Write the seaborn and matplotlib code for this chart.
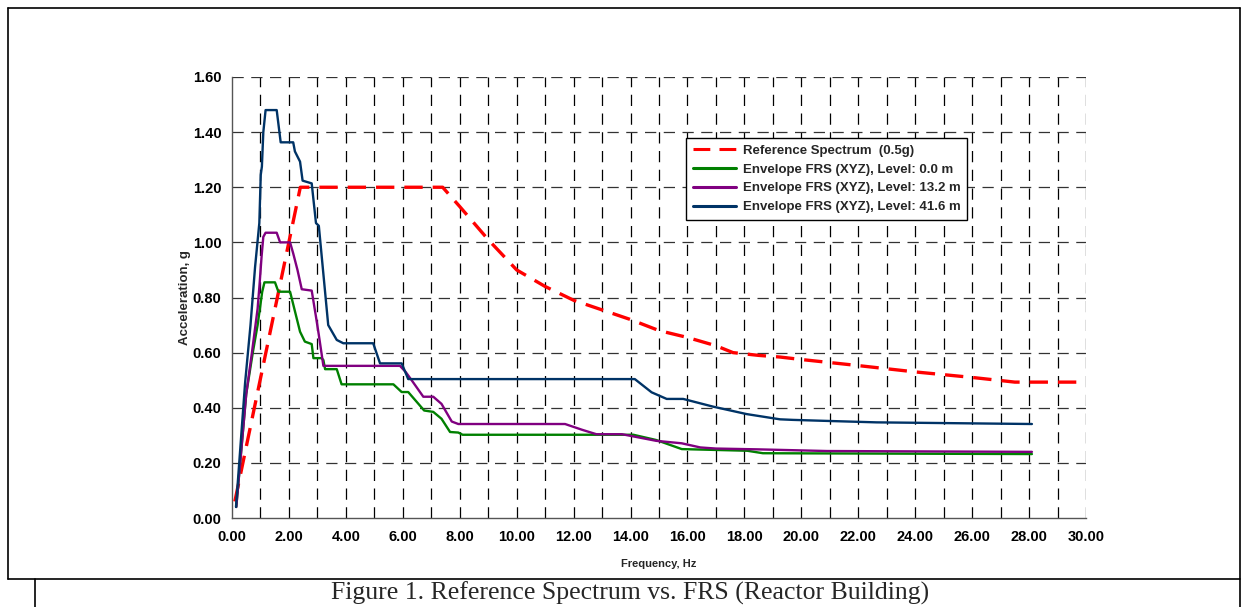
import numpy as np
import pandas as pd
import matplotlib
matplotlib.use("Agg")
import matplotlib.pyplot as plt
from matplotlib.lines import Line2D
from matplotlib.ticker import MultipleLocator, FormatStrFormatter
import seaborn as sns

# Reference spectrum (0.5g)
ref_freq = [0.1, 2.4, 7.4, 8.0, 9.0, 10.0, 11.0, 12.0, 13.0, 14.0, 15.0, 16.0,
            17.0, 17.6, 18.5, 19.25, 20.0, 22.0, 24.0, 26.0, 27.5, 30.0]
ref_acc = [0.06, 1.20, 1.20, 1.13, 1.01, 0.90, 0.84, 0.79, 0.755, 0.72, 0.68, 0.655,
           0.625, 0.60, 0.59, 0.584, 0.575, 0.553, 0.53, 0.51, 0.493, 0.493]

# Envelope FRS, level 0.0 m
green_freq = [0.15, 0.5, 0.73, 0.9, 1.06, 1.14, 1.51, 1.63, 2.04, 2.39, 2.56, 2.8, 2.86,
              3.15, 3.21, 3.27, 3.68, 3.85, 5.67, 5.96, 6.19, 6.5, 6.75, 7.07, 7.36, 7.66,
              7.95, 8.1, 14.1, 14.9, 15.8, 18.1, 18.65, 28.1]
green_acc = [0.04, 0.45, 0.60, 0.70, 0.82, 0.855, 0.855, 0.821, 0.821, 0.676, 0.64, 0.631, 0.58,
             0.58, 0.573, 0.54, 0.54, 0.485, 0.485, 0.457, 0.457, 0.42, 0.39, 0.385, 0.36, 0.312,
             0.31, 0.302, 0.302, 0.283, 0.25, 0.244, 0.235, 0.232]

# Envelope FRS, level 13.2 m
purple_freq = [0.15, 0.5, 0.7, 0.9, 0.97, 1.04, 1.1, 1.18, 1.57, 1.69, 2.04, 2.15, 2.3, 2.45,
               2.8, 2.95, 3.05, 3.21, 5.9, 6.1, 6.31, 6.72, 7.07, 7.36, 7.72, 7.95, 11.7, 12.3,
               12.8, 13.7, 14.9, 15.8, 16.45, 17.0, 18.5, 20.9, 28.1]
purple_acc = [0.04, 0.45, 0.60, 0.76, 0.85, 0.95, 1.02, 1.035, 1.035, 1.0, 1.0, 0.96, 0.90, 0.83,
              0.825, 0.73, 0.664, 0.552, 0.552, 0.53, 0.50, 0.44, 0.44, 0.414, 0.35, 0.341, 0.341, 0.32,
              0.304, 0.304, 0.28, 0.271, 0.256, 0.252, 0.249, 0.243, 0.24]

# Envelope FRS, level 41.6 m
blue_freq = [0.14, 0.46, 0.65, 0.81, 0.96, 1.01, 1.05, 1.1, 1.18, 1.57, 1.71, 2.15, 2.21, 2.39,
             2.48, 2.8, 2.95, 3.05, 3.38, 3.68, 3.91, 4.96, 5.2, 5.96, 6.19, 14.15, 14.74, 15.27,
             15.85, 16.9, 18.08, 19.25, 19.7, 20.65, 22.64, 28.1]
blue_acc = [0.04, 0.49, 0.70, 0.91, 1.07, 1.245, 1.275, 1.40, 1.48, 1.48, 1.363, 1.363, 1.33, 1.293,
            1.224, 1.214, 1.07, 1.06, 0.70, 0.646, 0.634, 0.634, 0.561, 0.561, 0.504, 0.504, 0.456, 0.432,
            0.432, 0.404, 0.377, 0.358, 0.356, 0.353, 0.347, 0.341]

labels = ["Reference Spectrum  (0.5g)",
          "Envelope FRS (XYZ), Level: 0.0 m",
          "Envelope FRS (XYZ), Level: 13.2 m",
          "Envelope FRS (XYZ), Level: 41.6 m"]
colors = ["#FF0000", "#008000", "#800080", "#003366"]

frames = []
for lab, fx, fy in zip(labels, [ref_freq, green_freq, purple_freq, blue_freq],
                       [ref_acc, green_acc, purple_acc, blue_acc]):
    frames.append(pd.DataFrame({"freq": fx, "acc": fy, "series": lab}))
df = pd.concat(frames, ignore_index=True)

sns.set_style("white")
plt.rcParams["font.family"] = ["Liberation Sans", "DejaVu Sans"]

fig = plt.figure(figsize=(12.47, 6.07), dpi=100)
ax = fig.add_axes([232 / 1247, 89 / 607, 854 / 1247, 441 / 607])

# dashed grid, every 1 Hz and every 0.2 g
for xv in np.arange(1, 31, 1):
    ax.axvline(xv, color="black", lw=0.9, ls=(0, (9, 6)), zorder=1)
for yv in np.arange(0.2, 1.61, 0.2):
    ax.axhline(yv, color="#333333", lw=0.9, ls=(0, (9, 6)), zorder=1)

sns.lineplot(data=df, x="freq", y="acc", hue="series", style="series",
             hue_order=labels, style_order=labels, palette=colors,
             dashes={labels[0]: (5.5, 3.0), labels[1]: "", labels[2]: "", labels[3]: ""},
             estimator=None, sort=False, ax=ax, zorder=3)

# line widths: reference thicker
for ln in ax.lines:
    if ln.get_zorder() != 3:
        continue
    c = ln.get_color()
    if isinstance(c, str) and c.lower() == "#ff0000":
        ln.set_linewidth(2.4)
    else:
        ln.set_linewidth(1.7)

ax.set_xlim(0, 30)
ax.set_ylim(0, 1.6)
ax.xaxis.set_major_locator(MultipleLocator(2))
ax.xaxis.set_minor_locator(MultipleLocator(1))
ax.yaxis.set_major_locator(MultipleLocator(0.2))
ax.xaxis.set_major_formatter(FormatStrFormatter("%.2f"))
ax.yaxis.set_major_formatter(FormatStrFormatter("%.2f"))

for s in ["top", "right"]:
    ax.spines[s].set_visible(False)
for s in ["left", "bottom"]:
    ax.spines[s].set_color("#555555")
    ax.spines[s].set_linewidth(1.0)

ax.tick_params(axis="x", which="major", direction="inout", length=9, width=0.9,
               colors="#333333", labelcolor="black", labelsize=10.5, pad=4)
ax.tick_params(axis="x", which="minor", direction="in", length=6, width=0.9, colors="#333333")
ax.tick_params(axis="y", which="major", direction="inout", length=9, width=0.9,
               colors="#333333", labelcolor="black", labelsize=10.5, pad=3)
for t in ax.get_xticklabels() + ax.get_yticklabels():
    t.set_fontweight("bold")

ax.set_xlabel("Frequency, Hz", fontsize=8, fontweight="bold", labelpad=11)
ax.set_ylabel("Acceleration, g", fontsize=9.5, fontweight="bold", labelpad=1)

leg = ax.legend(loc="upper left", bbox_to_anchor=(0.532, 0.862), frameon=True,
                fancybox=False, edgecolor="black", framealpha=1, handlelength=3.3,
                handletextpad=0.5, borderpad=0.5, borderaxespad=0, labelspacing=0.5,
                prop={"size": 9.5, "weight": "bold"})
leg.get_frame().set_linewidth(1.0)
for h in leg.get_lines():
    h.set_linewidth(2.2)

# surrounding table frame and caption
H, W = 607, 1247
frame_lines = [
    ([8, 1240], [8, 8]),
    ([8, 8], [8, 579]),
    ([1240, 1240], [8, 607]),
    ([8, 1240], [579, 579]),
    ([35, 35], [579, 607]),
]
for xs, ys in frame_lines:
    fig.add_artist(Line2D([x / W for x in xs], [1 - y / H for y in ys],
                          color="black", lw=1.2, transform=fig.transFigure))

fig.text(630 / W, 1 - 600 / H, "Figure 1. Reference Spectrum vs. FRS (Reactor Building)",
         ha="center", va="baseline", fontsize=18.5, family=["Liberation Serif", "DejaVu Serif"])

fig.savefig("out.png", dpi=100)
